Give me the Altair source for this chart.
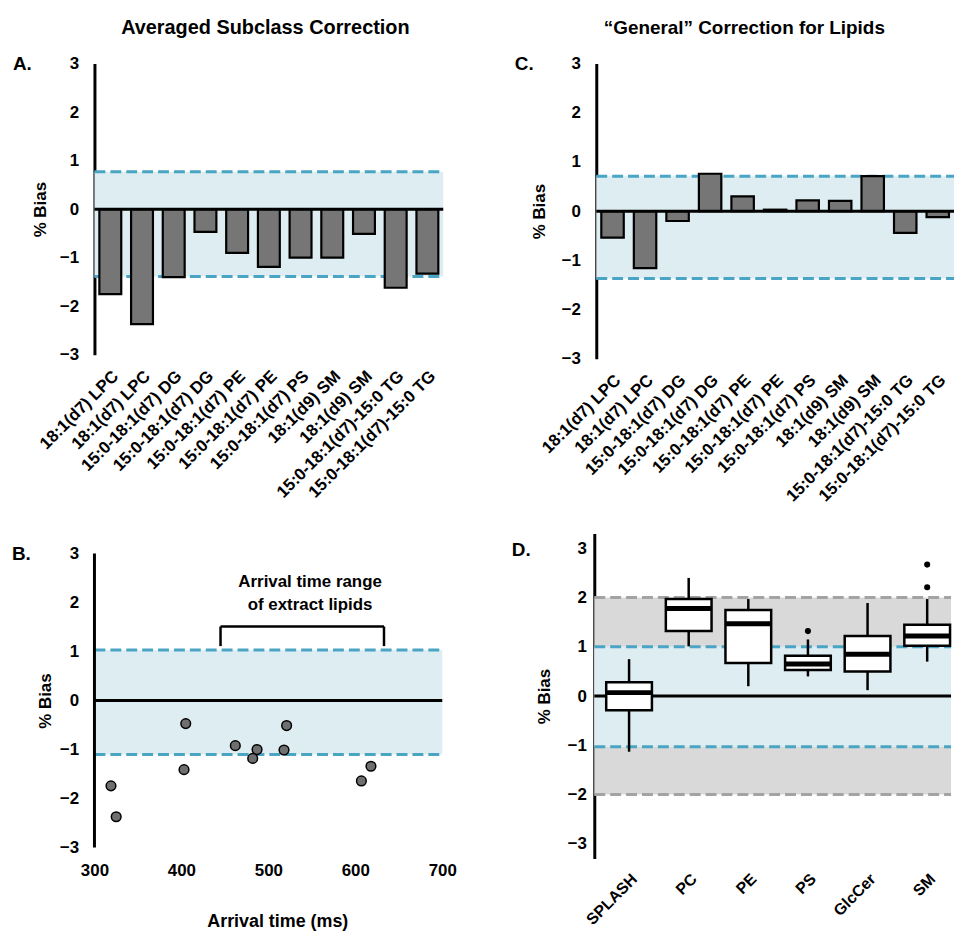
import altair as alt
import pandas as pd

FONT = "Liberation Sans"
BLUE_BAND = "#deedf2"
BLUE_DASH = "#4aa5c4"
GRAY_BAND = "#d9d9d9"
GRAY_DASH = "#a3a3a3"
BAR_FILL = "#767676"

# ---------------- data ----------------
subclass_labels = ["18:1(d7) LPC", "18:1(d7) LPC", "15:0-18:1(d7) DG", "15:0-18:1(d7) DG",
                   "15:0-18:1(d7) PE", "15:0-18:1(d7) PE", "15:0-18:1(d7) PS",
                   "18:1(d9) SM", "18:1(d9) SM", "15:0-18:1(d7)-15:0 TG", "15:0-18:1(d7)-15:0 TG"]
bias_avg = [-1.75, -2.37, -1.40, -0.47, -0.90, -1.19, -1.00, -1.00, -0.51, -1.62, -1.33]
bias_general = [-0.54, -1.16, -0.20, 0.76, 0.30, 0.03, 0.22, 0.21, 0.71, -0.44, -0.12]
band_avg = [-1.39, 0.77]
band_general = [-1.37, 0.71]

arrival_time = [319, 325, 405, 403, 462, 487, 482, 521, 518, 607, 618]
bias_arrival = [-1.74, -2.37, -0.47, -1.41, -0.92, -1.00, -1.18, -0.51, -1.01, -1.64, -1.34]
band_arrival = [-1.10, 1.03]
bracket_x = [445, 633]
bracket_y = [1.11, 1.51]
annot_lines = ["Arrival time range", "of extract lipids"]
annot_x = 548
annot_y = [2.41, 1.95]

box_cats = ["SPLASH", "PC", "PE", "PS", "GlcCer", "SM"]
whisk_lo = [-1.13, 1.01, 0.20, 0.40, 0.12, 0.70]
box_q1 = [-0.29, 1.32, 0.67, 0.53, 0.50, 1.02]
box_med = [0.07, 1.78, 1.47, 0.65, 0.85, 1.22]
box_q3 = [0.28, 1.97, 1.75, 0.82, 1.22, 1.45]
whisk_hi = [0.75, 2.40, 1.97, 1.15, 1.89, 1.97]
out_cat = ["PS", "SM", "SM"]
out_val = [1.32, 2.21, 2.67]
band_inner = [-1.03, 1.00]
band_outer = [-2.00, 2.00]

ticks = [-3, -2, -1, 0, 1, 2, 3]


def y_axis(title_y, title_x, pad=16, domain=True):
    return alt.Axis(values=ticks, title="% Bias", titleFont=FONT, titleFontSize=17,
                    titleFontWeight="bold", titleColor="black", titleX=title_x, titleY=title_y,
                    titleAngle=-90, titleAlign="center", titleBaseline="bottom",
                    labelFont=FONT, labelFontSize=17, labelFontWeight="bold", labelColor="black",
                    labelPadding=pad, ticks=False, grid=False, domain=domain,
                    domainColor="black", domainWidth=3)


def text_layer(txt, x, y, size=19, align="left"):
    return alt.Chart(pd.DataFrame({"t": [txt]})).mark_text(
        font=FONT, fontSize=size, fontWeight="bold", color="black", align=align,
        baseline="alphabetic").encode(text="t:N", x=alt.value(x), y=alt.value(y))


def hband(lo, hi, W, color):
    return alt.Chart(pd.DataFrame({"v": [lo], "v2": [hi]})).mark_rect(color=color).encode(
        y="v:Q", y2="v2:Q", x=alt.value(0), x2=alt.value(W))


def hline(vals, W, color, dash=None, width=3):
    kw = dict(color=color, strokeWidth=width)
    if dash:
        kw["strokeDash"] = dash
    return alt.Chart(pd.DataFrame({"v": vals})).mark_rule(**kw).encode(
        y="v:Q", x=alt.value(0), x2=alt.value(W))


label_expr = "[" + ",".join("'" + s + "'" for s in subclass_labels) + "][datum.value]"


def bar_panel(values, band, letter, letter_dy, title, title_x, title_size, W, H, title_ax):
    yscale = alt.Scale(domain=[-3, 3], nice=False)
    df = pd.DataFrame({"i": list(range(len(values))), "v": values})
    bars = alt.Chart(df).mark_bar(color=BAR_FILL, stroke="black", strokeWidth=2.2).encode(
        x=alt.X("i:O", scale=alt.Scale(paddingInner=0.31, paddingOuter=0.155),
                axis=alt.Axis(title=None, labelExpr=label_expr, labelAngle=-45, domain=False,
                              ticks=False, labelFont=FONT, labelFontSize=17,
                              labelFontWeight="bold", labelColor="black", labelPadding=13)),
        y=alt.Y("v:Q", scale=yscale, axis=y_axis(H / 2, title_ax)),
    )
    layers = [
        hband(band[0], band[1], W, BLUE_BAND),
        hline(band, W, BLUE_DASH, dash=[11, 5]),
        bars,
        hline([0], W, "black"),
        text_layer(letter, -82, letter_dy),
        text_layer(title, title_x, -30, size=title_size, align="center"),
    ]
    return alt.layer(*layers).properties(width=W, height=H)


panelA = bar_panel(bias_avg, band_avg, "A.", 6, "Averaged Subclass Correction", 172, 20,
                   351, 293, -45)
panelC = bar_panel(bias_general, band_general, "C.", 6, "\u201cGeneral\u201d Correction for Lipids",
                   149, 19, 360, 297, -48)

# ---------------- panel B ----------------
WB, HB = 350, 316
xsB = alt.Scale(domain=[300, 700], nice=False)
ysB = alt.Scale(domain=[-3, 3.405], nice=False)
x_axis_B = alt.Axis(values=[300, 400, 500, 600, 700], title="Arrival time (ms)", titleFont=FONT,
                    titleFontSize=18, titleFontWeight="bold", titleColor="black",
                    titlePadding=34, titleX=184, labelFont=FONT, labelFontSize=17,
                    labelFontWeight="bold", labelColor="black", labelPadding=15,
                    labelFlush=False, ticks=False, grid=False, domain=False)
dfB = pd.DataFrame({"x": arrival_time, "v": bias_arrival})
pts = alt.Chart(dfB).mark_circle(size=95, color="#6f6f6f", stroke="black", strokeWidth=1.5,
                                 opacity=1).encode(
    x=alt.X("x:Q", scale=xsB, axis=x_axis_B),
    y=alt.Y("v:Q", scale=ysB, axis=y_axis(168, -40, domain=False)),
)
yline = alt.Chart(pd.DataFrame({"v": [ticks[0]], "v2": [ticks[-1]]})).mark_rule(
    color="black", strokeWidth=3).encode(x=alt.value(0), y=alt.Y("v:Q", scale=ysB), y2="v2:Q")
br = pd.DataFrame({
    "x": [bracket_x[0], bracket_x[0], bracket_x[1]],
    "x2": [bracket_x[1], bracket_x[0], bracket_x[1]],
    "v": [bracket_y[1], bracket_y[0], bracket_y[0]],
    "v2": [bracket_y[1], bracket_y[1], bracket_y[1]],
})
bracket = alt.Chart(br).mark_rule(color="black", strokeWidth=2.5).encode(
    x=alt.X("x:Q", scale=xsB, axis=x_axis_B), x2="x2:Q",
    y=alt.Y("v:Q", scale=ysB), y2="v2:Q")
annot = alt.Chart(pd.DataFrame({"x": [annot_x] * 2, "v": annot_y, "t": annot_lines})).mark_text(
    font=FONT, fontSize=17, fontWeight="bold", color="black", baseline="middle").encode(
    x=alt.X("x:Q", scale=xsB, axis=x_axis_B), y=alt.Y("v:Q", scale=ysB), text="t:N")
panelB = alt.layer(
    hband(band_arrival[0], band_arrival[1], WB, BLUE_BAND),
    hline(band_arrival, WB, BLUE_DASH, dash=[11, 5]),
    hline([0], WB, "black"),
    yline, bracket, annot, pts,
    text_layer("B.", -83, 27),
).properties(width=WB, height=HB)

# ---------------- panel D ----------------
WD, HD = 359, 327
ysD = alt.Scale(domain=[-3.3, 3.3], nice=False)
xsD = alt.Scale(domain=box_cats, range=[5, 365], paddingInner=0, paddingOuter=0)
x_axis_D = alt.Axis(title=None, labelAngle=-45, domain=False, ticks=False, labelFont=FONT,
                    labelFontSize=16, labelFontWeight="bold", labelColor="black", labelPadding=12)
dfD = pd.DataFrame({"c": box_cats, "lo": whisk_lo, "q1": box_q1, "med": box_med,
                    "q3": box_q3, "hi": whisk_hi})
whisk = alt.Chart(dfD).mark_rule(color="black", strokeWidth=2.5).encode(
    x=alt.X("c:N", scale=xsD, axis=x_axis_D, sort=box_cats),
    y=alt.Y("lo:Q", scale=ysD, axis=y_axis(HD / 2, -41, pad=8)), y2="hi:Q")
boxes = alt.Chart(dfD).mark_bar(size=46, color="white", stroke="black", strokeWidth=2.5).encode(
    x=alt.X("c:N", scale=xsD, sort=box_cats), y=alt.Y("q1:Q", scale=ysD), y2="q3:Q")
meds = alt.Chart(dfD).mark_tick(size=46, thickness=5, color="black", opacity=1).encode(
    x=alt.X("c:N", scale=xsD, sort=box_cats), y=alt.Y("med:Q", scale=ysD))
outs = alt.Chart(pd.DataFrame({"c": out_cat, "v": out_val})).mark_circle(
    size=38, color="black", opacity=1).encode(
    x=alt.X("c:N", scale=xsD, sort=box_cats), y=alt.Y("v:Q", scale=ysD))
panelD = alt.layer(
    hband(band_outer[0], band_outer[1], WD, GRAY_BAND),
    hband(band_inner[0], band_inner[1], WD, BLUE_BAND),
    hline(band_outer, WD, GRAY_DASH, dash=[11, 5]),
    hline(band_inner, WD, BLUE_DASH, dash=[11, 5]),
    hline([0], WD, "black"),
    whisk, boxes, meds, outs,
    text_layer("D.", -83, 23),
).properties(width=WD, height=HD)

top = alt.hconcat(panelA, panelC, spacing=70)
bottom = alt.hconcat(panelB, panelD, spacing=55)
chart = alt.vconcat(top, bottom, spacing=29).properties(
    padding={"left": 4, "top": 7, "right": 0, "bottom": 0}
).configure(background="white").configure_view(stroke=None)

chart.save("out.html", embed_options={"renderer": "svg", "actions": False})
